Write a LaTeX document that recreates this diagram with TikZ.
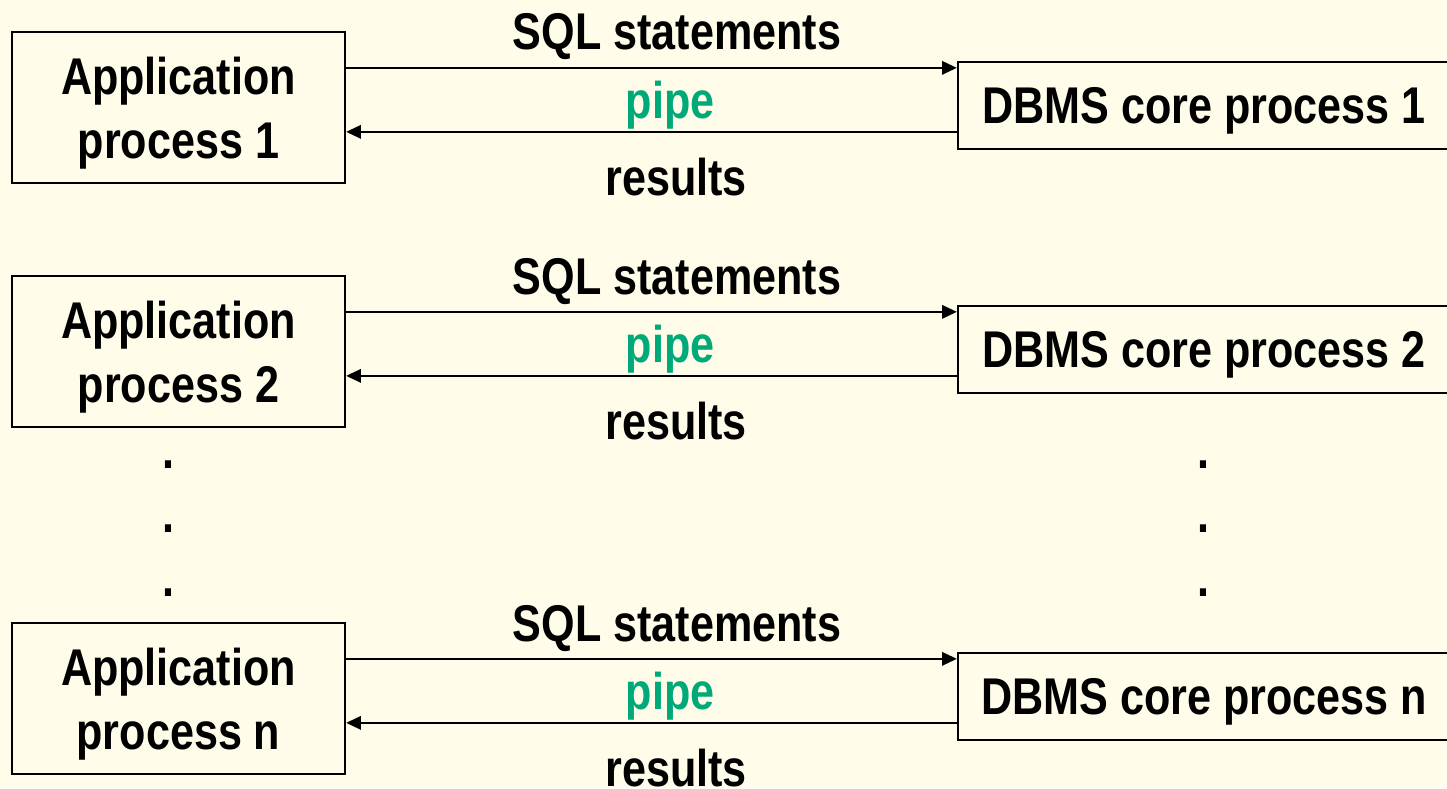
\documentclass[tikz,border=0pt]{standalone}
\usepackage{fontspec}
\setmainfont{Liberation Sans}[FakeStretch=0.835]
\usetikzlibrary{arrows.meta,calc}
\definecolor{bgc}{RGB}{255,252,234}
\definecolor{pipegreen}{RGB}{0,170,120}
\begin{document}
\begin{tikzpicture}[
  every node/.style={font=\fontsize{14.7}{18.2}\selectfont\bfseries},
  appbox/.style={draw, line width=0.65pt, rectangle, inner sep=0pt, minimum width=3.33cm, minimum height=1.51cm, align=center, text depth=0pt},
  dbbox/.style={draw, line width=0.65pt, rectangle, inner sep=0pt, minimum width=4.92cm, minimum height=0.87cm, text depth=0pt},
  arr/.style={line width=0.6pt, -{Triangle[length=4.2pt,width=3.8pt]}},
  lbl/.style={anchor=base, inner sep=0pt},
  pipelbl/.style={lbl, text=pipegreen},
  dotlbl/.style={anchor=base, inner sep=0pt}
]
\fill[bgc] (0,0) rectangle (14.47,-7.88);
\useasboundingbox (0,0) rectangle (14.47,-7.88);

% row 1
\node[appbox] (a1) at (1.785,-1.075) {Application\\process 1};
\node[dbbox] (d1) at (12.04,-1.055) {DBMS core process 1};
\path ([yshift=-0.37cm]a1.north east) coordinate (s1);
\path ([yshift=-1.01cm]a1.north east) coordinate (r1);
\draw[arr] (s1) -- (s1 -| d1.west);
\draw[arr] (r1 -| d1.west) -- (r1);
\node[lbl] (q1) at (6.77,-0.50) {SQL statements};
\node[pipelbl] (p1) at (6.70,-1.18) {pipe};
\node[lbl] (res1) at (6.76,-1.95) {results};

% row 2
\node[appbox] (a2) at (1.785,-3.515) {Application\\process 2};
\node[dbbox] (d2) at (12.04,-3.495) {DBMS core process 2};
\path ([yshift=-0.37cm]a2.north east) coordinate (s2);
\path ([yshift=-1.01cm]a2.north east) coordinate (r2);
\draw[arr] (s2) -- (s2 -| d2.west);
\draw[arr] (r2 -| d2.west) -- (r2);
\node[lbl] (q2) at (6.77,-2.94) {SQL statements};
\node[pipelbl] (p2) at (6.70,-3.62) {pipe};
\node[lbl] (res2) at (6.76,-4.39) {results};

% dots
\node[dotlbl] (ld1) at (1.685,-4.68) {.};
\node[dotlbl] (ld2) at (1.685,-5.32) {.};
\node[dotlbl] (ld3) at (1.685,-5.96) {.};
\node[dotlbl] (rd1) at (12.035,-4.68) {.};
\node[dotlbl] (rd2) at (12.035,-5.32) {.};
\node[dotlbl] (rd3) at (12.035,-5.96) {.};

% row n
\node[appbox] (an) at (1.785,-6.985) {Application\\process n};
\node[dbbox] (dn) at (12.04,-6.965) {DBMS core process n};
\path ([yshift=-0.37cm]an.north east) coordinate (sn);
\path ([yshift=-1.01cm]an.north east) coordinate (rn);
\draw[arr] (sn) -- (sn -| dn.west);
\draw[arr] (rn -| dn.west) -- (rn);
\node[lbl] (qn) at (6.77,-6.41) {SQL statements};
\node[pipelbl] (pn) at (6.70,-7.09) {pipe};
\node[lbl] (resn) at (6.76,-7.86) {results};
\end{tikzpicture}
\end{document}
